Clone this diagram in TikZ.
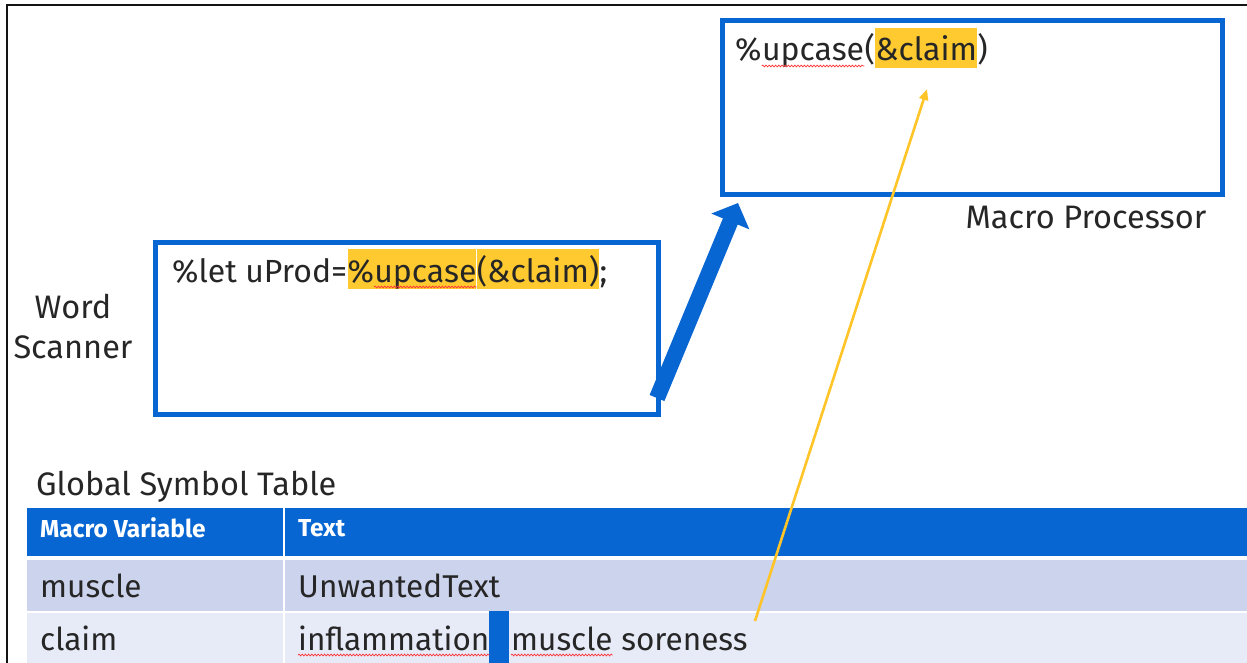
\documentclass[tikz,border=0pt]{standalone}
\usepackage{fontspec}
\setmainfont{Fira Sans}
\usetikzlibrary{arrows.meta,decorations.pathmorphing}
\definecolor{boxblue}{RGB}{8,102,210}
\definecolor{hlyellow}{RGB}{255,202,48}
\definecolor{rowA}{RGB}{204,211,237}
\definecolor{rowB}{RGB}{231,234,247}
\definecolor{arrowyellow}{RGB}{255,196,40}
\definecolor{frame}{RGB}{20,20,20}
\tikzset{
  stagebox/.style={draw=boxblue, line width=5pt, minimum width=#1, inner sep=0pt},
  txt/.style={anchor=base west, inner sep=0pt, text=black!85, font=\fontsize{32}{36}\selectfont},
  hl/.style={txt, fill=hlyellow, text height=33pt, text depth=7pt},
  plain/.style={txt, text height=33pt, text depth=7pt},
  label/.style={inner sep=0pt, text=black!85, font=\fontsize{32.5}{40}\selectfont},
  headtxt/.style={anchor=west, inner sep=0pt, text=white, font=\fontsize{24.5}{28}\selectfont\bfseries},
  celltxt/.style={anchor=base west, inner sep=0pt, text=black!85, font=\fontsize{31.5}{36}\selectfont},
  squiggle/.style={draw=red!80, line width=0.7pt, decorate, decoration={snake, amplitude=0.9pt, segment length=3.2pt}},
}
\begin{document}
\begin{tikzpicture}[x=1pt, y=-1pt]
\useasboundingbox (0,0) rectangle (1247,663);

% outer frame (top and left edges)
\draw[frame, line width=2pt] (7,663) -- (7,5) -- (1247,5);

% macro processor box
\node[stagebox=500pt, minimum height=174pt] (mp) at (972,108) {};
\node[label, anchor=center] (mplabel) at (1086,217) {Macro Processor};
\node[plain] (m1) at (735,61) {\%};
\node[plain] (m2) at (m1.base east) {upcase};
\node[plain] (m3) at (m2.base east) {(};
\node[hl] (m4) at (m3.base east) {\&claim};
\node[plain] (m5) at (m4.base east) {)};
\draw[squiggle] ([yshift=-5pt]m2.base west) -- ([yshift=-5pt]m2.base east);

% word scanner box
\node[stagebox=503pt, minimum height=172pt] (ws) at (406.5,328) {};
\node[label, align=center] (wslabel) at (73,327) {Word\\Scanner};
\node[plain] (w1) at (172,282) {\%let uProd=};
\node[hl] (w2) at (w1.base east) {\%};
\node[hl] (w3) at (w2.base east) {upcase};
\node[hl] (w4) at (w3.base east) {(\&claim)};
\node[plain] (w5) at (w4.base east) {;};
\draw[squiggle] ([yshift=-5pt]w3.base west) -- ([yshift=-5pt]w3.base east);

% flow from scanner to processor
\coordinate (flowstart) at (657,398);
\coordinate (flowtip) at (738,203);
\draw[boxblue, line width=16pt, -{Triangle[width=40pt, length=20pt]}] (flowstart) -- (flowtip);

% global symbol table
\node[label, anchor=west] (gst) at (36,487) {Global Symbol Table};
\fill[boxblue] (27,508) rectangle (1247,556);
\fill[rowA] (27,560) rectangle (1247,611);
\fill[rowB] (27,613) rectangle (1247,663);
\draw[white, line width=2pt] (284,508) -- (284,663);

\node[headtxt] (h1) at (40,528) {Macro Variable};
\node[headtxt] (h2) at (298,528) {Text};
\node[celltxt] (r1a) at (40,597) {muscle};
\node[celltxt] (r1b) at (298,597) {UnwantedText};
\node[celltxt] (r2a) at (40,650) {claim};
\node[celltxt] (r2b) at (298,650) {inflammation};
\node[celltxt] (r2c) at (511,650) {muscle};
\node[celltxt] (r2d) at (r2c.base east) {\ soreness};
\fill[boxblue] (489,611) rectangle (509,663);
\draw[squiggle] ([yshift=-5pt]r2b.base west) -- ([yshift=-5pt]r2b.base east);
\draw[squiggle] ([yshift=-5pt]r2c.base west) -- ([yshift=-5pt]r2c.base east);

% value of claim feeding the processor
\coordinate (valsrc) at (755,621);
\coordinate (valdst) at (927,89);
\draw[arrowyellow, line width=2.6pt, -{Triangle[width=9pt, length=11pt]}] (valsrc) -- (valdst);
\end{tikzpicture}
\end{document}
